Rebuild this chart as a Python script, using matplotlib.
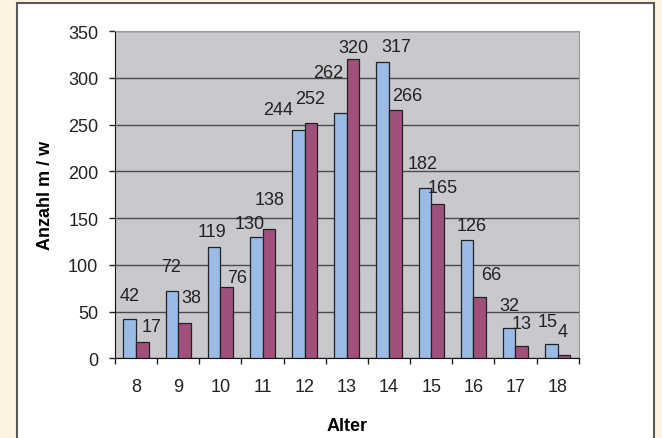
import matplotlib.pyplot as plt
import numpy as np
from matplotlib.patches import Rectangle

plt.rcParams.update({'font.family': ['Liberation Sans', 'DejaVu Sans'], 'font.size': 13,
                     'text.color': '#222222', 'xtick.color': '#222222', 'ytick.color': '#222222'})

ages = ['8', '9', '10', '11', '12', '13', '14', '15', '16', '17', '18']
m_counts = [42, 72, 119, 130, 244, 262, 317, 182, 126, 32, 15]
w_counts = [17, 38, 76, 138, 252, 320, 266, 165, 66, 13, 4]

# label offsets (pixels) relative to the top of each bar, as placed in the original
m_offsets = [(0, 24), (-1, 24), (-2, 16), (-7, 13), (-20, 21), (-12, 41),
             (14, 15), (-2, 25), (5, 15), (0, 23), (-4, 23)]
w_offsets = [(9, 16), (7, 25), (10, 10), (1, 30), (-1, 24), (0, 12),
             (12, 14), (5, 17), (12, 22), (0, 23), (-1, 23)]

fig = plt.figure(figsize=(6.62, 4.39), dpi=100)
fig.patch.set_facecolor('#FDF3E0')
fig.patches.append(Rectangle((16.5 / 662, -0.05), (654 - 16.5) / 662, 1.05 - 3.5 / 439,
                             transform=fig.transFigure, facecolor='white',
                             edgecolor='#5a5a5a', linewidth=1.5, zorder=-10))

ax = fig.add_axes([115 / 662, 1 - 359.3 / 439, (578.7 - 115) / 662, (359.3 - 32) / 439])
ax.set_facecolor('#C9C9CD')

x = np.arange(len(ages))
w = 0.3
b1 = ax.bar(x - w / 2, m_counts, w, color='#99BBE6', edgecolor='#222222', linewidth=0.9, zorder=3)
b2 = ax.bar(x + w / 2, w_counts, w, color='#A0507A', edgecolor='#222222', linewidth=0.9, zorder=3)

for bars, offs in ((b1, m_offsets), (b2, w_offsets)):
    for rect, (dx, dy) in zip(bars, offs):
        ax.annotate(f'{int(rect.get_height())}',
                    xy=(rect.get_x() + rect.get_width() / 2, rect.get_height()),
                    xytext=(dx, dy), textcoords='offset pixels',
                    ha='center', va='center', fontsize=13, zorder=4)

ax.set_xlim(-0.5, len(ages) - 0.5)
ax.set_ylim(0, 350)
ax.set_yticks(range(0, 351, 50))
ax.yaxis.grid(True, color='#4a4a4a', linewidth=1.0, zorder=1)

ax.set_xticks(np.arange(-0.5, len(ages), 1))
ax.set_xticklabels([])
ax.set_xticks(x, minor=True)
ax.set_xticklabels(ages, minor=True)
ax.tick_params(axis='x', which='major', direction='out', length=4, width=1)
ax.tick_params(axis='x', which='minor', length=0, pad=14)
ax.tick_params(axis='y', direction='out', length=4, width=1, pad=8)

for s in ('top', 'right'):
    ax.spines[s].set_color('#999999')
for s in ('left', 'bottom'):
    ax.spines[s].set_color('#111111')

ax.set_xlabel('Alter', fontweight='bold', fontsize=13, labelpad=16)
ax.set_ylabel('Anzahl m / w', fontweight='bold', fontsize=13, labelpad=10)

plt.savefig('out.png', dpi=100, facecolor=fig.get_facecolor())
